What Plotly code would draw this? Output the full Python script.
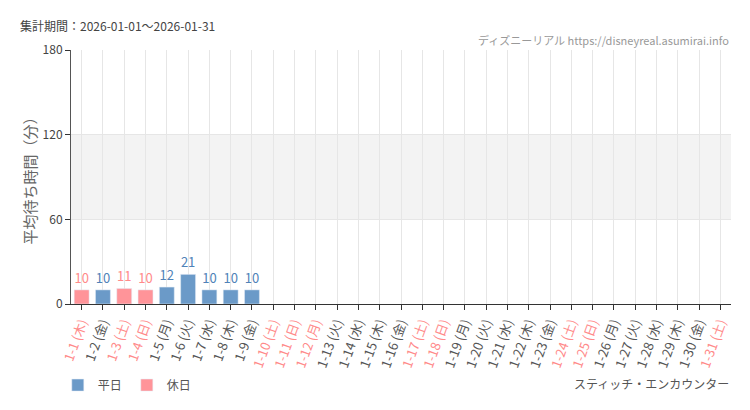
import plotly.graph_objects as go

# Data
dates = ["1-1", "1-2", "1-3", "1-4", "1-5", "1-6", "1-7", "1-8", "1-9", "1-10",
         "1-11", "1-12", "1-13", "1-14", "1-15", "1-16", "1-17", "1-18", "1-19", "1-20",
         "1-21", "1-22", "1-23", "1-24", "1-25", "1-26", "1-27", "1-28", "1-29", "1-30", "1-31"]
weekdays = ["木", "金", "土", "日", "月", "火", "水", "木", "金", "土",
            "日", "月", "火", "水", "木", "金", "土", "日", "月", "火",
            "水", "木", "金", "土", "日", "月", "火", "水", "木", "金", "土"]
holiday = [1, 0, 1, 1, 0, 0, 0, 0, 0, 1,
           1, 1, 0, 0, 0, 0, 1, 1, 0, 0,
           0, 0, 0, 1, 1, 0, 0, 0, 0, 0, 1]
wait_min = [10, 10, 11, 10, 12, 21, 10, 10, 10, None,
            None, None, None, None, None, None, None, None, None, None,
            None, None, None, None, None, None, None, None, None, None, None]

BLUE = "#6b9ac8"
PINK = "#ff9499"
FONT = "Noto Sans CJK JP"

labels = [f"{d} ({w})" for d, w in zip(dates, weekdays)]
ticktext = [f"<span style='color:#ff8a8a'>{l}</span>" if h else l
            for l, h in zip(labels, holiday)]

wk_y = [v if not h else None for v, h in zip(wait_min, holiday)]
hd_y = [v if h else None for v, h in zip(wait_min, holiday)]

fig = go.Figure()
fig.add_trace(go.Bar(
    x=labels, y=wk_y, name="平日", marker_color=BLUE, width=0.7,
    text=[str(v) if v is not None else "" for v in wk_y],
    textposition="outside", cliponaxis=False,
    textfont=dict(color="#4f82b8", size=13, family=FONT),
))
fig.add_trace(go.Bar(
    x=labels, y=hd_y, name="休日", marker_color=PINK, width=0.7,
    text=[str(v) if v is not None else "" for v in hd_y],
    textposition="outside", cliponaxis=False,
    textfont=dict(color="#ff8a8a", size=13, family=FONT),
))

# grey band 60-120
fig.add_shape(type="rect", xref="paper", yref="y", x0=0, x1=1, y0=60, y1=120,
              fillcolor="#f3f3f3", line_width=0, layer="below")

fig.update_layout(
    width=750, height=410,
    margin=dict(l=71, r=19, t=50, b=105),
    paper_bgcolor="white", plot_bgcolor="white",
    barmode="overlay",
    font=dict(family=FONT, size=12, color="#555"),
    showlegend=True,
    legend=dict(orientation="h", x=-0.02, y=-0.314, yanchor="middle",
                xanchor="left", font=dict(size=12, color="#555"), itemwidth=30),
)
fig.update_xaxes(
    type="category", tickmode="array", tickvals=labels, ticktext=ticktext,
    tickangle=-70, tickfont=dict(size=13, color="#555"),
    showgrid=True, gridcolor="#e6e6e6", gridwidth=1,
    showline=True, linecolor="#333", linewidth=1,
    ticks="outside", ticklen=5, tickcolor="#333",
    range=[-0.5, 30.5],
)
fig.update_yaxes(
    range=[0, 180], tickvals=[0, 60, 120, 180],
    showgrid=True, gridcolor="#e6e6e6",
    showline=True, linecolor="#555", linewidth=1,
    ticks="outside", ticklen=5, tickcolor="#333",
    tickfont=dict(size=12, color="#444"),
    title=dict(text="平均待ち時間（分）", font=dict(size=15, color="#666"), standoff=2),
    zeroline=False,
)

fig.add_annotation(text="集計期間：2026-01-01～2026-01-31", xref="paper", yref="paper",
                   x=-0.08, y=1.098, xanchor="left", yanchor="middle", showarrow=False,
                   font=dict(size=12, color="#444"))
fig.add_annotation(text="ディズニーリアル https://disneyreal.asumirai.info", xref="paper", yref="paper",
                   x=1.0, y=1.039, xanchor="right", yanchor="middle", showarrow=False,
                   font=dict(size=11, color="#999"))
fig.add_annotation(text="スティッチ・エンカウンター", xref="paper", yref="paper",
                   x=1.0, y=-0.314, xanchor="right", yanchor="middle", showarrow=False,
                   font=dict(size=12, color="#555"))

# drop the default body margin so the figure sits at the page corner
fig.write_html("out.html", config={"displayModeBar": False},
               post_script="document.body.style.margin='0';")
